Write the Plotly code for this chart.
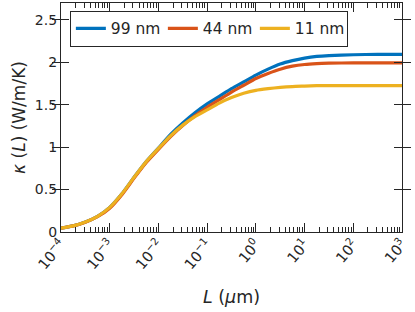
import plotly.graph_objects as go

# log10(L / um) sample positions
log_L = [-4.0, -3.75, -3.5, -3.25, -3.0, -2.75, -2.5, -2.25, -2.0, -1.75, -1.5, -1.25,
         -1.0, -0.75, -0.5, -0.25, 0.0, 0.25, 0.5, 0.75, 1.0, 1.25, 1.5, 2.0, 2.5, 3.0]

kappa_99 = [0.045, 0.072, 0.118, 0.185, 0.29, 0.45, 0.645, 0.83, 0.99, 1.15, 1.285, 1.405,
            1.51, 1.60, 1.69, 1.77, 1.85, 1.92, 1.98, 2.02, 2.05, 2.07, 2.08, 2.09, 2.095, 2.095]
kappa_44 = [0.045, 0.072, 0.116, 0.18, 0.28, 0.44, 0.635, 0.82, 0.975, 1.125, 1.255, 1.37,
            1.47, 1.56, 1.65, 1.73, 1.81, 1.87, 1.92, 1.955, 1.975, 1.985, 1.99, 1.995, 1.995, 1.995]
kappa_11 = [0.045, 0.072, 0.118, 0.185, 0.29, 0.45, 0.645, 0.83, 0.985, 1.135, 1.26, 1.36,
            1.44, 1.52, 1.585, 1.635, 1.67, 1.69, 1.705, 1.715, 1.72, 1.725, 1.725, 1.725, 1.725, 1.725]

series_names = ["99 nm", "44 nm", "11 nm"]
series_colors = ["#0072BD", "#D95319", "#EDB120"]

x_tick_vals = [1e-4, 1e-3, 1e-2, 1e-1, 1e0, 1e1, 1e2, 1e3]
x_tick_text = ["10<sup>\u22124</sup>", "10<sup>\u22123</sup>", "10<sup>\u22122</sup>", "10<sup>\u22121</sup>",
               "10<sup>0</sup>", "10<sup>1</sup>", "10<sup>2</sup>", "10<sup>3</sup>"]

L_um = [10 ** v for v in log_L]

fig = go.Figure()
for name, ys, col in zip(series_names, [kappa_99, kappa_44, kappa_11], series_colors):
    fig.add_trace(go.Scatter(x=L_um, y=ys, mode="lines", name=name,
                             line=dict(color=col, width=3.2, shape="spline", smoothing=0.5)))
# invisible carrier trace for the tick-label overlay axis
fig.add_trace(go.Scatter(x=L_um, y=kappa_99, mode="lines", xaxis="x2", yaxis="y",
                         line=dict(width=0, color="rgba(0,0,0,0)"), showlegend=False,
                         hoverinfo="skip"))

axcol = "#262626"
font = "DejaVu Sans, Arial, sans-serif"

fig.update_layout(
    width=415, height=312,
    margin=dict(l=61, r=13, t=3, b=80, autoexpand=False),
    paper_bgcolor="white", plot_bgcolor="white",
    font=dict(family=font, size=14, color=axcol),
    showlegend=True,
    legend=dict(orientation="h", x=0.026, y=0.966, xanchor="left", yanchor="top",
                bordercolor=axcol, borderwidth=1, bgcolor="white",
                font=dict(size=15.5, color=axcol), tracegroupgap=0,
                entrywidth=47, entrywidthmode="pixels", itemwidth=30),
    xaxis=dict(
        type="log", range=[-4, 3], tickmode="linear", tick0=0, dtick=1,
        showticklabels=False,
        showline=True, linecolor=axcol, linewidth=1.3, mirror="allticks",
        ticks="inside", ticklen=9, tickwidth=1.2, tickcolor=axcol,
        minor=dict(ticks="inside", ticklen=5, tickwidth=1, tickcolor=axcol, dtick="D1", showgrid=False),
        showgrid=False, zeroline=False, automargin=False,
        title=dict(text="<i>L</i> (<i>μ</i>m)", font=dict(size=17.5, color=axcol), standoff=58),
    ),
    xaxis2=dict(
        type="log", range=[-4, 3], overlaying="x", side="bottom",
        tickmode="array", tickvals=x_tick_vals, ticktext=x_tick_text,
        tickangle=-50, tickfont=dict(size=14.5, color=axcol),
        showticklabels=True, showline=False, ticks="",
        showgrid=False, zeroline=False, automargin=False,
    ),
    yaxis=dict(
        range=[0, 2.7], dtick=0.5,
        showline=True, linecolor=axcol, linewidth=1.3, mirror="allticks",
        ticks="inside", ticklen=8, tickwidth=1.2, tickcolor=axcol,
        tickfont=dict(size=14, color=axcol),
        showgrid=False, zeroline=False, automargin=False,
        title=dict(text="<i>κ</i> (<i>L</i>) (W/m/K)", font=dict(size=17, color=axcol), standoff=4),
    ),
)

fig.write_html("out.html", config={"displayModeBar": False},
               post_script="document.body.style.margin='0';document.body.style.padding='0';")
